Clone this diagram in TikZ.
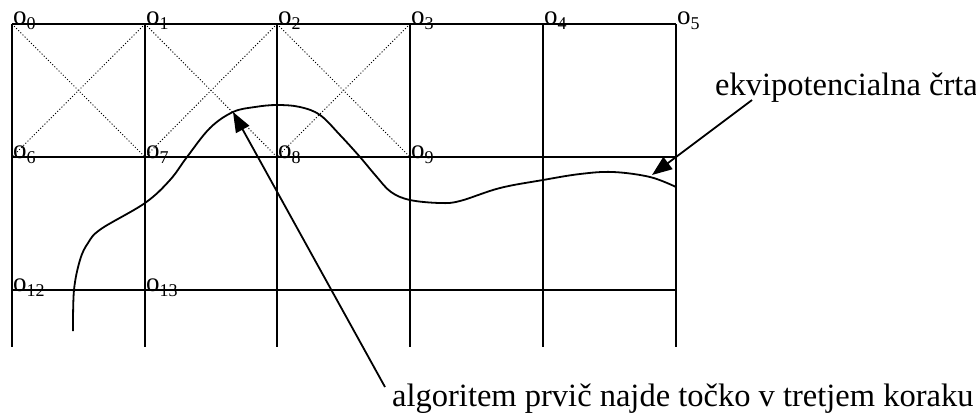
\documentclass[tikz,border=0pt]{standalone}
\usepackage{fontspec}
\setmainfont{Liberation Serif}
\usepackage{tikz}
\usetikzlibrary{arrows.meta}

\tikzset{
  gridline/.style={line width=2pt},
  diagline/.style={line width=1pt, dotted},
  ptlabel/.style={anchor=base west, inner sep=0pt, font=\fontsize{27}{27}\selectfont},
  callout/.style={anchor=base west, inner sep=0pt, font=\fontsize{32.5}{36}\selectfont},
  pointer/.style={line width=1.8pt, -{Triangle[length=20pt,width=15pt]}}
}
\newcommand{\olab}[1]{o\raisebox{-5pt}{\fontsize{18}{18}\selectfont #1}}

\begin{document}
\begin{tikzpicture}[x=1pt, y=-1pt, >=Stealth]
	\useasboundingbox (0,0) rectangle (976,412);

	% grid
	\foreach \x in {12,145,277,410,543,676}
		\draw[gridline] (\x,24) -- (\x,347);
	\foreach \y in {24,157,290}
		\draw[gridline] (12,\y) -- (676,\y);

	% dotted crosses in the first three cells
	\foreach \xa/\xb in {12/145,145/277,277/410} {
		\draw[diagline] (\xa,24) -- (\xb,157);
		\draw[diagline] (\xb,24) -- (\xa,157);
	}

	% labels of the points
	\foreach \x/\n in {12/0,145/1,277/2,410/3,543/4,676/5}
		\node[ptlabel] (o\n) at (\x+1,25) {\olab{\n}};
	\foreach \x/\n in {12/6,145/7,277/8,410/9}
		\node[ptlabel] (o\n) at (\x+1,158) {\olab{\n}};
	\foreach \x/\n in {12/12,145/13}
		\node[ptlabel] (o\n) at (\x+1,291) {\olab{\n}};

	% equipotential line
	\draw[line width=1.8pt] plot[smooth, tension=0.6] coordinates {
		(73,331) (74,290) (80,260) (88,243) (101,229) (145,203) (170,180)
		(187,157) (210,128) (233,112) (255,107) (277,105) (300,107)
		(320,115) (340,135) (360,157) (376,176) (391,192) (410,200)
		(440,203) (460,201) (500,188) (543,180) (580,174) (613,172)
		(650,177) (676,187)};

	% texts and pointers
	\node[callout] (equi) at (715,95) {ekvipotencialna črta};
	\node[callout] (algo) at (392,406) {algoritem prvič najde točko v tretjem koraku};
	\coordinate (equiStart) at (752,100);
	\coordinate (equiTip) at (652,175);
	\coordinate (algoStart) at (385,387);
	\coordinate (algoTip) at (233,112);
	\draw[pointer] (equiStart) -- (equiTip);
	\draw[pointer] (algoStart) -- (algoTip);
\end{tikzpicture}
\end{document}
